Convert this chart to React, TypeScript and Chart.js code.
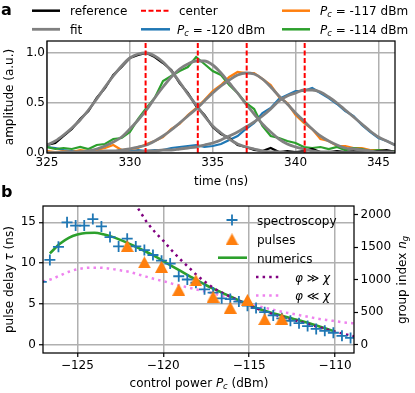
import React, { useEffect, useRef } from 'react';
import { Chart, registerables } from 'chart.js';
Chart.register(...registerables);

const FONT = '"DejaVu Sans", sans-serif';
const BLUE = '#1f77b4';
const ORANGE = '#ff7f0e';
const GREEN = '#2ca02c';
const GRAY = '#808080';
const PURPLE = '#800080';
const VIOLET = '#ee82ee';
const GRID = '#b0b0b0';

// ---------- panel a ----------
const times = [325, 325.5, 326, 326.5, 327, 327.5, 328, 328.5, 329, 329.5, 330, 330.5, 331, 331.5, 332, 332.5, 333, 333.5, 334, 334.5, 335, 335.5, 336, 336.5, 337, 337.5, 338, 338.5, 339, 339.5, 340, 340.5, 341, 341.5, 342, 342.5, 343, 343.5, 344, 344.5, 345, 345.5, 346];
const centers = [330.95, 334.1, 337.05, 340.55];
const refData = [0.08, 0.10, 0.17, 0.24, 0.34, 0.42, 0.55, 0.65, 0.78, 0.86, 0.95, 0.98, 1.00, 0.96, 0.90, 0.83, 0.70, 0.60, 0.47, 0.38, 0.26, 0.19, 0.15, 0.08, 0.06, 0.03, 0.02, 0.05, 0.01, 0.02, 0.01, 0.02, 0.04, 0.01, 0.01, 0.02, 0.01, 0.02, 0.01, 0.01, 0.02, 0.03, 0.01];
const refFit = [0.08, 0.12, 0.18, 0.25, 0.33, 0.43, 0.54, 0.66, 0.77, 0.87, 0.95, 0.99, 1.00, 0.97, 0.91, 0.82, 0.71, 0.59, 0.48, 0.37, 0.27, 0.20, 0.14, 0.09, 0.06, 0.04, 0.02, 0.01, 0.01, 0, 0, 0, 0, 0, 0, 0, 0, 0, 0, 0, 0, 0, 0];
const p120Data = [0.06, 0.05, 0.03, 0.02, 0.02, 0.01, 0.02, 0.01, 0.02, 0.01, 0.02, 0.03, 0.02, 0.03, 0.03, 0.05, 0.06, 0.07, 0.08, 0.06, 0.07, 0.09, 0.13, 0.17, 0.24, 0.30, 0.40, 0.45, 0.54, 0.58, 0.62, 0.62, 0.65, 0.60, 0.55, 0.49, 0.42, 0.37, 0.28, 0.21, 0.15, 0.12, 0.08];
const p120Fit = [0, 0, 0, 0, 0, 0, 0, 0, 0, 0.01, 0.01, 0.01, 0.02, 0.02, 0.03, 0.03, 0.04, 0.05, 0.06, 0.08, 0.10, 0.13, 0.17, 0.21, 0.26, 0.31, 0.37, 0.44, 0.52, 0.57, 0.60, 0.63, 0.63, 0.61, 0.56, 0.50, 0.43, 0.36, 0.29, 0.22, 0.16, 0.12, 0.08];
const p117Data = [0.02, 0.01, 0.02, 0.01, 0.03, 0.02, 0.03, 0.05, 0.08, 0.03, 0.04, 0.05, 0.09, 0.12, 0.16, 0.24, 0.29, 0.38, 0.45, 0.53, 0.62, 0.68, 0.76, 0.81, 0.80, 0.80, 0.74, 0.68, 0.56, 0.50, 0.38, 0.30, 0.24, 0.14, 0.12, 0.07, 0.07, 0.05, 0.05, 0.03, 0.03, 0.02, 0.02];
const p117Fit = [0, 0, 0, 0, 0.01, 0.01, 0.01, 0.02, 0.02, 0.03, 0.04, 0.06, 0.08, 0.12, 0.17, 0.23, 0.30, 0.37, 0.44, 0.52, 0.60, 0.67, 0.73, 0.78, 0.80, 0.79, 0.74, 0.66, 0.57, 0.49, 0.40, 0.32, 0.24, 0.17, 0.12, 0.08, 0.05, 0.04, 0.03, 0.02, 0.01, 0.01, 0.01];
const p114Data = [0.06, 0.04, 0.05, 0.04, 0.06, 0.04, 0.08, 0.09, 0.14, 0.15, 0.21, 0.34, 0.45, 0.55, 0.72, 0.77, 0.82, 0.86, 0.96, 0.89, 0.82, 0.78, 0.68, 0.60, 0.50, 0.44, 0.27, 0.17, 0.15, 0.12, 0.10, 0.06, 0.05, 0.06, 0.04, 0.06, 0.03, 0.05, 0.04, 0.02, 0.03, 0.02, 0.02];
const p114Fit = [0, 0, 0.01, 0.01, 0.01, 0.02, 0.04, 0.07, 0.11, 0.16, 0.24, 0.33, 0.43, 0.55, 0.66, 0.76, 0.84, 0.89, 0.92, 0.92, 0.88, 0.80, 0.70, 0.60, 0.49, 0.39, 0.29, 0.21, 0.14, 0.09, 0.06, 0.04, 0.02, 0.01, 0.01, 0, 0, 0, 0, 0, 0, 0, 0];
const timeTicks = [325, 330, 335, 340, 345];
const ampTicks = [0, 0.5, 1.0];

// ---------- panel b ----------
const specPower = [-127.1, -126.6, -126.1, -125.6, -125.1, -124.6, -124.1, -123.6, -123.1, -122.6, -122.1, -121.6, -121.1, -120.6, -120.1, -119.6, -119.1, -118.6, -118.1, -117.6, -117.1, -116.6, -116.1, -115.6, -115.1, -114.6, -114.1, -113.6, -113.1, -112.6, -112.1, -111.6, -111.1, -110.6, -110.1, -109.6, -109.1];
const specDelay = [7.7, 10.4, 12.0, 15.0, 14.6, 14.6, 15.4, 14.5, 13.2, 12.05, 13.0, 12.05, 11.6, 11.0, 10.3, 9.95, 8.4, 8.0, 7.6, 6.8, 6.4, 5.7, 5.6, 5.3, 4.8, 4.5, 4.0, 3.6, 3.25, 2.95, 2.65, 2.3, 1.95, 1.72, 1.48, 1.1, 0.85];
const pulsePower = [-122.1, -121.1, -120.1, -119.1, -118.1, -117.1, -116.1, -115.1, -114.1, -113.1];
const pulseDelay = [12.1, 10.1, 9.55, 6.75, 7.9, 5.9, 4.55, 5.5, 3.15, 3.2];
const numPower = [-126.6, -126, -125.5, -125, -124.5, -124, -123.5, -123, -122.5, -122, -121.5, -121, -120.5, -120, -119.5, -119, -118.5, -118, -117.5, -117, -116.5, -116, -115.5, -115, -114.5, -114, -113.5, -113, -112.5, -112, -111.5, -111, -110.5, -110];
const numDelay = [11.2, 12.4, 13.1, 13.5, 13.7, 13.72, 13.55, 13.25, 12.85, 12.4, 11.9, 11.4, 10.85, 10.25, 9.65, 9.05, 8.45, 7.85, 7.3, 6.8, 6.3, 5.82, 5.35, 4.9, 4.45, 4.1, 3.8, 3.5, 3.22, 2.95, 2.65, 2.32, 1.98, 1.62];
const strongPower = [-121.7, -121.5, -121, -120.5, -120, -119.5, -119, -118.5, -118, -117.5, -117, -116.5, -116, -115.5, -115, -114.5, -114, -113.5, -113, -112.5, -112, -111.5, -111, -110.5, -110, -109.5, -109, -108.8];
const strongDelay = [17.3, 16.8, 15.15, 13.85, 12.75, 11.55, 10.45, 9.45, 8.45, 7.6, 6.85, 6.3, 5.8, 5.3, 4.8, 4.4, 4.02, 3.68, 3.38, 3.08, 2.8, 2.5, 2.2, 1.9, 1.6, 1.35, 1.1, 1.0];
const weakPower = [-127, -126.5, -126, -125.5, -125, -124.5, -124, -123.5, -123, -122.5, -122, -121.5, -121, -120.5, -120, -119.5, -119, -118.5, -118, -117.5, -117, -116.5, -116, -115.5, -115, -114.5, -114, -113.5, -113, -112.5, -112, -111.5, -111, -110.5, -110, -109.5, -109, -108.8];
const weakDelay = [7.75, 8.05, 8.5, 8.95, 9.25, 9.42, 9.45, 9.42, 9.3, 9.12, 8.95, 8.65, 8.35, 8.05, 7.8, 7.5, 7.25, 7.0, 6.75, 6.5, 6.25, 5.95, 5.65, 5.3, 5.0, 4.75, 4.5, 4.25, 4.0, 3.8, 3.6, 3.4, 3.2, 3.05, 2.9, 2.75, 2.65, 2.6];
const powerTicks = [-125, -120, -115, -110];
const delayTicks = [0, 5, 10, 15];
const groupTicks = [0, 500, 1000, 1500, 2000];
const NG_PER_NS = 125.5;

// ---------- helpers ----------
type Seg = { t: string; it?: boolean; sub?: boolean };
const pts = (xs: number[], ys: number[]) => xs.map((x, i) => ({ x, y: ys[i] }));
const segFont = (s: Seg, size: number) => `${s.it ? 'italic ' : ''}${s.sub ? size * 0.7 : size}px ${FONT}`;
function drawRich(ctx: CanvasRenderingContext2D, segs: Seg[], x: number, y: number, size: number, align: 'left' | 'center') {
  ctx.textAlign = 'left';
  ctx.textBaseline = 'alphabetic';
  let w = 0;
  for (const s of segs) { ctx.font = segFont(s, size); w += ctx.measureText(s.t).width; }
  let cx = align === 'center' ? x - w / 2 : x;
  for (const s of segs) {
    ctx.font = segFont(s, size);
    ctx.fillText(s.t, cx, y + (s.sub ? size * 0.2 : 0));
    cx += ctx.measureText(s.t).width;
  }
}
function drawRotated(ctx: CanvasRenderingContext2D, segs: Seg[], x: number, y: number, size: number) {
  ctx.save();
  ctx.translate(x, y);
  ctx.rotate(-Math.PI / 2);
  drawRich(ctx, segs, 0, 0, size, 'center');
  ctx.restore();
}
function hline(ctx: CanvasRenderingContext2D, x0: number, x1: number, y: number, color: string, w: number, dash: number[] = []) {
  ctx.save();
  ctx.strokeStyle = color;
  ctx.lineWidth = w;
  ctx.setLineDash(dash);
  ctx.beginPath();
  ctx.moveTo(x0, y);
  ctx.lineTo(x1, y);
  ctx.stroke();
  ctx.restore();
}
const pcSegs = (v: string): Seg[] => [{ t: 'P', it: true }, { t: 'c', it: true, sub: true }, { t: ' = ' + v + ' dBm' }];
function triangleMarker(w: number, h: number, color: string) {
  const c = document.createElement('canvas');
  c.width = w;
  c.height = h;
  const g = c.getContext('2d')!;
  g.fillStyle = color;
  g.beginPath();
  g.moveTo(w / 2, 0);
  g.lineTo(w, h);
  g.lineTo(0, h);
  g.closePath();
  g.fill();
  return c;
}
function frame(chart: any) {
  const ctx = chart.ctx;
  const a = chart.chartArea;
  ctx.save();
  ctx.strokeStyle = '#000';
  ctx.lineWidth = 1.25;
  ctx.strokeRect(a.left, a.top, a.right - a.left, a.bottom - a.top);
  ctx.restore();
}

export default function App() {
  const refA = useRef<HTMLCanvasElement>(null);
  const refB = useRef<HTMLCanvasElement>(null);

  useEffect(() => {
    Chart.defaults.font.family = FONT;
    Chart.defaults.color = '#000';

    const line = (data: any, color: string, width: number, extra: any = {}) => ({
      data, borderColor: color, backgroundColor: color, borderWidth: width, pointRadius: 0,
      showLine: true, fill: false, tension: 0, ...extra,
    });

    const dsA: any[] = [];
    centers.forEach((c) => dsA.push(line([{ x: c, y: 0 }, { x: c, y: 1.12 }], '#ff0000', 2, { borderDash: [5, 2.5] })));
    dsA.push(line(pts(times, refFit), GRAY, 2.8, { cubicInterpolationMode: 'monotone' }));
    dsA.push(line(pts(times, p120Fit), GRAY, 2.8, { cubicInterpolationMode: 'monotone' }));
    dsA.push(line(pts(times, p117Fit), GRAY, 2.8, { cubicInterpolationMode: 'monotone' }));
    dsA.push(line(pts(times, p114Fit), GRAY, 2.8, { cubicInterpolationMode: 'monotone' }));
    dsA.push(line(pts(times, refData), '#000', 2.2));
    dsA.push(line(pts(times, p114Data), GREEN, 2.2));
    dsA.push(line(pts(times, p117Data), ORANGE, 2.2));
    dsA.push(line(pts(times, p120Data), BLUE, 2.2));

    const overlayA = {
      id: 'overlayA',
      afterDraw(chart: any) {
        frame(chart);
        const ctx = chart.ctx as CanvasRenderingContext2D;
        ctx.save();
        ctx.fillStyle = '#000';
        ctx.textAlign = 'left';
        ctx.textBaseline = 'alphabetic';
        ctx.font = `bold 16px ${FONT}`;
        ctx.fillText('a', 1, 15);
        hline(ctx, 32, 60, 10.7, '#000', 2.5);
        hline(ctx, 32, 60, 29.3, GRAY, 2.8);
        hline(ctx, 141, 170, 10.7, '#ff0000', 2, [5, 2.5]);
        hline(ctx, 141, 170, 29.3, BLUE, 2.5);
        hline(ctx, 282, 310, 10.7, ORANGE, 2.5);
        hline(ctx, 282, 310, 29.3, GREEN, 2.5);
        drawRich(ctx, [{ t: 'reference' }], 70, 15, 12, 'left');
        drawRich(ctx, [{ t: 'fit' }], 70, 34, 12, 'left');
        drawRich(ctx, [{ t: 'center' }], 179, 15, 12, 'left');
        drawRich(ctx, pcSegs('-120'), 177, 34, 12, 'left');
        drawRich(ctx, pcSegs('-117'), 320, 15, 12, 'left');
        drawRich(ctx, pcSegs('-114'), 320, 34, 12, 'left');
        drawRich(ctx, [{ t: 'time (ns)' }], 221, 185, 12, 'center');
        drawRotated(ctx, [{ t: 'amplitude (a.u.)' }], 13, 97, 12);
        ctx.restore();
      },
    };

    const chartA = new Chart(refA.current!, {
      type: 'scatter',
      data: { datasets: dsA },
      options: {
        responsive: false,
        animation: false,
        devicePixelRatio: 1,
        layout: { padding: { top: 41, right: 20, left: 0, bottom: 0 } },
        plugins: { legend: { display: false }, tooltip: { enabled: false } },
        scales: {
          x: {
            type: 'linear', min: 325, max: 346,
            afterBuildTicks: (s: any) => { s.ticks = timeTicks.map((v) => ({ value: v })); },
            afterFit: (s: any) => { s.height = 37; },
            ticks: { font: { size: 12 }, color: '#000', padding: 3, maxRotation: 0, autoSkip: false, callback: (v: any) => String(v) },
            grid: { color: GRID, lineWidth: 1.5, drawTicks: false },
            border: { display: false },
          },
          y: {
            type: 'linear', min: 0, max: 1.12,
            afterBuildTicks: (s: any) => { s.ticks = ampTicks.map((v) => ({ value: v })); },
            afterFit: (s: any) => { s.width = 47; },
            ticks: { font: { size: 12 }, color: '#000', padding: 2, autoSkip: false, callback: (v: any) => Number(v).toFixed(1) },
            grid: { color: GRID, lineWidth: 1.5, drawTicks: false },
            border: { display: false },
          },
        },
      } as any,
      plugins: [overlayA],
    });

    const tri = triangleMarker(13, 12, ORANGE);
    const dsB: any[] = [
      { data: pts(pulsePower, pulseDelay), pointStyle: tri, pointRadius: 7, showLine: false, borderColor: ORANGE, backgroundColor: ORANGE, clip: 0 },
      { data: pts(specPower, specDelay), pointStyle: 'cross', pointRadius: 5.5, pointBorderWidth: 1.8, borderWidth: 1.8, showLine: false, borderColor: BLUE, backgroundColor: BLUE, clip: 0 },
      line(pts(strongPower, strongDelay), PURPLE, 2.5, { borderDash: [2.5, 4.1], cubicInterpolationMode: 'monotone' }),
      line(pts(numPower, numDelay), GREEN, 2.6, { cubicInterpolationMode: 'monotone' }),
      line(pts(weakPower, weakDelay), VIOLET, 2.5, { borderDash: [2.5, 4.1], cubicInterpolationMode: 'monotone' }),
    ];

    const overlayB = {
      id: 'overlayB',
      afterDraw(chart: any) {
        frame(chart);
        const ctx = chart.ctx as CanvasRenderingContext2D;
        ctx.save();
        ctx.fillStyle = '#000';
        ctx.font = `bold 16px ${FONT}`;
        ctx.textAlign = 'left';
        ctx.textBaseline = 'alphabetic';
        ctx.fillText('b', 1, 14);
        // legend handles
        ctx.save();
        ctx.strokeStyle = BLUE;
        ctx.lineWidth = 1.8;
        ctx.beginPath();
        ctx.moveTo(226.5, 37); ctx.lineTo(237.5, 37);
        ctx.moveTo(232, 31.5); ctx.lineTo(232, 42.5);
        ctx.stroke();
        ctx.restore();
        ctx.drawImage(tri, 232 - 6.5, 56.3 - 6);
        hline(ctx, 218, 247, 74.7, GREEN, 2.6);
        hline(ctx, 256, 282, 94, PURPLE, 2.5, [2.5, 4.1]);
        hline(ctx, 256, 282, 112.5, VIOLET, 2.5, [2.5, 4.1]);
        drawRich(ctx, [{ t: 'spectroscopy' }], 257, 41.5, 12, 'left');
        drawRich(ctx, [{ t: 'pulses' }], 257, 60.5, 12, 'left');
        drawRich(ctx, [{ t: 'numerics' }], 257, 79.5, 12, 'left');
        drawRich(ctx, [{ t: 'φ', it: true }, { t: ' ≫ ' }, { t: 'χ', it: true }], 295, 98.5, 12, 'left');
        drawRich(ctx, [{ t: 'φ', it: true }, { t: ' ≪ ' }, { t: 'χ', it: true }], 295, 117, 12, 'left');
        // axis titles
        drawRich(ctx, [{ t: 'control power ' }, { t: 'P', it: true }, { t: 'c', it: true, sub: true }, { t: ' (dBm)' }], 199, 203.5, 12, 'center');
        drawRotated(ctx, [{ t: 'pulse delay ' }, { t: 'τ', it: true }, { t: ' (ns)' }], 13, 96.6, 12);
        drawRotated(ctx, [{ t: 'group index ' }, { t: 'n', it: true }, { t: 'g', it: true, sub: true }], 406, 97, 12);
        ctx.restore();
      },
    };

    const chartB = new Chart(refB.current!, {
      type: 'scatter',
      data: { datasets: dsB },
      options: {
        responsive: false,
        animation: false,
        devicePixelRatio: 1,
        layout: { padding: { top: 23, right: 0, left: 0, bottom: 0 } },
        plugins: { legend: { display: false }, tooltip: { enabled: false } },
        scales: {
          x: {
            type: 'linear', min: -127, max: -108.9,
            afterBuildTicks: (s: any) => { s.ticks = powerTicks.map((v) => ({ value: v })); },
            afterFit: (s: any) => { s.height = 40; },
            ticks: { font: { size: 12 }, color: '#000', padding: 2, maxRotation: 0, autoSkip: false, callback: (v: any) => String(v).replace('-', '\u2212') },
            grid: { color: GRID, lineWidth: 1.5, drawTicks: true, tickLength: 4, tickColor: '#000', tickWidth: 1.2 },
            border: { display: false },
          },
          y: {
            type: 'linear', position: 'left', min: -1, max: 17,
            afterBuildTicks: (s: any) => { s.ticks = delayTicks.map((v) => ({ value: v })); },
            afterFit: (s: any) => { s.width = 43; },
            ticks: { font: { size: 12 }, color: '#000', padding: 3, autoSkip: false, callback: (v: any) => String(v) },
            grid: { color: GRID, lineWidth: 1.5, drawTicks: true, tickLength: 4, tickColor: '#000', tickWidth: 1.2 },
            border: { display: false },
          },
          y2: {
            type: 'linear', position: 'right', min: -1 * NG_PER_NS, max: 17 * NG_PER_NS,
            afterBuildTicks: (s: any) => { s.ticks = groupTicks.map((v) => ({ value: v })); },
            afterFit: (s: any) => { s.width = 61; },
            ticks: { font: { size: 12 }, color: '#000', padding: 2.5, autoSkip: false, callback: (v: any) => String(v) },
            grid: { drawOnChartArea: false, drawTicks: true, tickLength: 4, tickColor: '#000', tickWidth: 1.2 },
            border: { display: false },
          },
        },
      } as any,
      plugins: [overlayB],
    });

    return () => {
      chartA.destroy();
      chartB.destroy();
    };
  }, []);

  return (
    <div style={{ position: 'absolute', left: 0, top: 0, width: 415, height: 393, background: '#fff', overflow: 'hidden' }}>
      <canvas ref={refA} width={415} height={190} style={{ position: 'absolute', left: 0, top: 0, width: 415, height: 190 }} />
      <canvas ref={refB} width={415} height={210} style={{ position: 'absolute', left: 0, top: 183, width: 415, height: 210 }} />
    </div>
  );
}
